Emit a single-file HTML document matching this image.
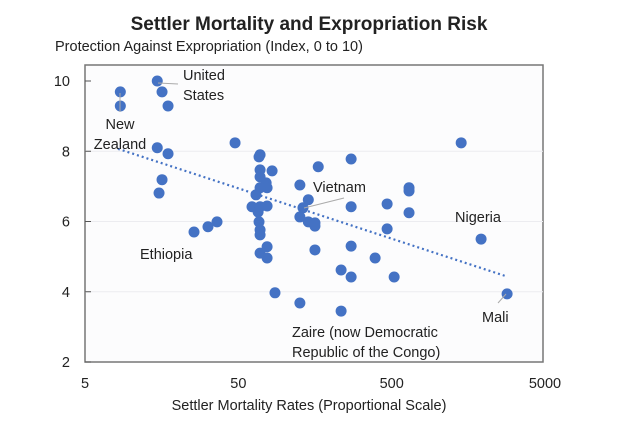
<!DOCTYPE html>
<html><head><meta charset="utf-8"><style>
body{margin:0;background:#fff;}
svg text{font-family:"Liberation Sans",Arial,sans-serif;fill:#222;}
</style></head><body>
<svg id="chart" width="618" height="426" xmlns="http://www.w3.org/2000/svg">
<rect width="618" height="426" fill="#fff"/>
<text x="309" y="30" text-anchor="middle" font-size="19" font-weight="bold">Settler Mortality and Expropriation Risk</text>
<text x="55" y="51" font-size="14.5">Protection Against Expropriation (Index, 0 to 10)</text>
<rect x="85" y="65" width="458" height="297" fill="#fcfcfd" stroke="#777" stroke-width="1.5"/>
<g id="grid"></g><g id="axes"></g><g id="trend"></g><g id="pts"></g>
<text x="309" y="410" text-anchor="middle" font-size="14.5">Settler Mortality Rates (Proportional Scale)</text>
<g font-size="14.5" fill="#222">
<text x="183" y="80">United</text>
<text x="183" y="100">States</text>
<line x1="158" y1="83" x2="178" y2="84" stroke="#aaa"/>
<text x="120" y="129" text-anchor="middle">New</text>
<text x="120" y="149" text-anchor="middle">Zealand</text>
<line x1="120" y1="93" x2="120" y2="112" stroke="#aaa"/>
<text x="140" y="259">Ethiopia</text>
<text x="313" y="192">Vietnam</text>
<line x1="304" y1="208" x2="344" y2="198" stroke="#aaa"/>
<text x="455" y="222">Nigeria</text>
<text x="482" y="322">Mali</text>
<line x1="506" y1="294" x2="498" y2="303" stroke="#aaa"/>
<text x="292" y="337">Zaire (now Democratic</text>
<text x="292" y="357">Republic of the Congo)</text>
</g>
</svg>
<script>
const mortality=[8.5,8.5,14.8,15.9,17.4,14.8,17.4,15.9,15.2,47.6,68.2,69.3,69.3,83,69.3,75.9,77,69.3,65.2,61.4,69.3,77,67.3,68.2,69.3,69.3,77,69.3,77,86.7,25.7,31.7,36.3,126,143,132,126,143,158,158,166,272,272,649,649,467,649,1420,1915,467,272,158,390,234,272,519,2830,126,234];
const protection=[9.69,9.29,10.0,9.69,9.29,8.10,7.93,7.19,6.81,8.24,7.84,7.90,7.47,7.44,7.27,7.10,6.96,6.96,6.76,6.42,6.42,6.44,6.27,5.99,5.76,5.62,5.28,5.10,4.96,3.97,5.70,5.85,5.99,7.04,6.62,6.39,6.13,5.99,5.96,5.87,7.56,7.78,6.42,6.96,6.87,6.50,6.25,8.24,5.50,5.79,5.30,5.19,4.96,4.62,4.42,4.42,3.94,3.68,3.45];
const trendX=[8.2,2750];
const trendY=[8.07,4.45];
const xTicks=[5,50,500,5000];
const yTicks=[2,4,6,8,10];
const NS="http://www.w3.org/2000/svg";
const X0=85,X1=545,Y0=362,Y1=81;
function sx(v){return X0+(Math.log10(v)-Math.log10(5))/3*(X1-X0);}
function sy(v){return Y0-(v-2)/8*(Y0-Y1);}
function mk(tag,attrs,parent){const e=document.createElementNS(NS,tag);for(const k in attrs)e.setAttribute(k,attrs[k]);document.getElementById(parent).appendChild(e);return e;}
yTicks.forEach(t=>{
  if(t>2&&t<10){const g=mk('line',{x1:X0,x2:543,y1:sy(t),y2:sy(t),stroke:'#ececf0'},'grid');
  
  }
  const tk=mk('line',{x1:X0,x2:X0+6,y1:sy(t),y2:sy(t),stroke:'#555'},'axes');
  
  
  const l=mk('text',{x:70,y:sy(t)+5,'text-anchor':'end','font-size':'14.5'},'axes');l.textContent=t;
  
  
});
xTicks.forEach(t=>{
  const l=mk('text',{x:sx(t),y:388,'text-anchor':'middle','font-size':'14.5'},'axes');l.textContent=t;
  
  
});
const tl=mk('line',{x1:sx(trendX[0]),y1:sy(trendY[0]),x2:sx(trendX[1]),y2:sy(trendY[1]),stroke:'#4472c4','stroke-width':2.2,'stroke-dasharray':'2 3'},'trend');


mortality.forEach((m,i)=>{
  const c=mk('circle',{cx:sx(m),cy:sy(protection[i]),r:5.5,fill:'#4472c4'},'pts');
  
  
});
</script>
</body></html>
